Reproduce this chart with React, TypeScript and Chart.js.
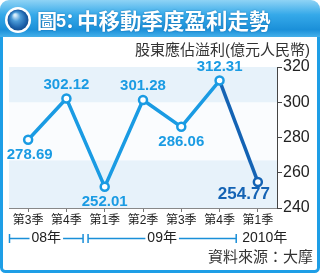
import React, { useEffect, useRef } from 'react';
import { Chart, registerables } from 'chart.js';
Chart.register(...registerables);

const categories = ['第3季', '第4季', '第1季', '第2季', '第3季', '第4季', '第1季'];
const profits = [278.69, 302.12, 252.01, 301.28, 286.06, 312.31, 254.77];
const yMin = 240;
const yMax = 320;
const yStep = 20;
const yearLabels = ['08年', '09年', '2010年'];
const yearStart = [0, 2, 6];
const yearEnd = [1, 5, 6];
const titleHead = '圖';
const titleNum = '5';
const titleSep = '：';
const titleBody = '中移動季度盈利走勢';
const axisTitle = '股東應佔溢利(億元人民幣)';
const sourceText = '資料來源：大摩';

const LIGHT = '#1a9be3';
const DARK = '#1463b4';
const BORDER = '#1e9ee6';
const FONT = "'Liberation Sans', 'Noto Sans CJK TC', sans-serif";

const framePlugin = {
  id: 'frame',
  beforeDraw(chart: any) {
    const { ctx, width, height } = chart;
    ctx.save();
    ctx.fillStyle = '#ffffff';
    ctx.fillRect(0, 0, width, height);
    ctx.strokeStyle = BORDER;
    ctx.lineWidth = 3;
    ctx.beginPath();
    ctx.roundRect(1.5, 12, width - 3, height - 13.5, 4);
    ctx.stroke();
    const hg = ctx.createLinearGradient(0, 0, 0, 37);
    hg.addColorStop(0, '#8fd3f5');
    hg.addColorStop(0.4, '#35a9e9');
    hg.addColorStop(0.8, '#1b90d9');
    hg.addColorStop(1, '#45b0ea');
    ctx.fillStyle = hg;
    ctx.beginPath();
    ctx.roundRect(0, 0, width, 37, [9, 9, 0, 0]);
    ctx.fill();
    ctx.beginPath();
    ctx.arc(18, 20, 13, 0, Math.PI * 2);
    ctx.fillStyle = '#ffffff';
    ctx.fill();
    const rg = ctx.createRadialGradient(15, 15, 1, 18, 20, 11);
    rg.addColorStop(0, '#d8eefc');
    rg.addColorStop(0.35, '#4b9bd8');
    rg.addColorStop(0.8, '#1a5fa8');
    rg.addColorStop(1, '#134c8c');
    ctx.beginPath();
    ctx.arc(18, 20, 10.5, 0, Math.PI * 2);
    ctx.fillStyle = rg;
    ctx.fill();
    // title
    ctx.fillStyle = '#ffffff';
    ctx.textBaseline = 'middle';
    ctx.shadowColor = 'rgba(0,60,120,0.5)';
    ctx.shadowBlur = 2;
    ctx.textAlign = 'left';
    ctx.font = "bold 20px 'Noto Sans CJK TC', sans-serif";
    ctx.fillText(titleHead, 37, 21);
    ctx.font = "bold 18px 'Liberation Sans', sans-serif";
    ctx.fillText(titleNum, 56, 22);
    ctx.textAlign = 'center';
    ctx.font = "bold 20px 'Noto Sans CJK TC', sans-serif";
    ctx.fillText(titleSep, 70, 21);
    ctx.textAlign = 'left';
    ctx.font = "bold 21.5px 'Noto Sans CJK TC', sans-serif";
    ctx.fillText(titleBody, 77, 21);
    ctx.shadowBlur = 0;
    ctx.shadowColor = 'transparent';
    const y = chart.scales.y;
    const area = chart.chartArea;
    ctx.fillStyle = '#fafcfe';
    ctx.fillRect(area.left, area.top, area.right - area.left, area.bottom - area.top);
    ctx.fillStyle = '#e7f2fa';
    ctx.fillRect(area.left, y.getPixelForValue(320), area.right - area.left, y.getPixelForValue(300) - y.getPixelForValue(320));
    ctx.fillRect(area.left, y.getPixelForValue(267), area.right - area.left, y.getPixelForValue(240) - y.getPixelForValue(267));
    ctx.restore();
  },
  afterDraw(chart: any) {
    const { ctx } = chart;
    const x = chart.scales.x;
    ctx.save();
    ctx.font = `15px ${FONT}`;
    ctx.fillStyle = '#333333';
    ctx.textBaseline = 'middle';
    ctx.textAlign = 'right';
    ctx.fillText(axisTitle, 310, 51);
    ctx.fillText(sourceText, 313, 258);
    const half = (x.getPixelForValue(1) - x.getPixelForValue(0)) / 2;
    const yy = 238.5;
    ctx.font = `14px ${FONT}`;
    ctx.strokeStyle = '#1a8fd8';
    ctx.lineWidth = 1.5;
    for (let i = 0; i < yearLabels.length; i++) {
      const xL = x.getPixelForValue(yearStart[i]) - half + (i === 0 ? 0.5 : 2.5);
      const xR = x.getPixelForValue(yearEnd[i]) + half - 2.5;
      const last = i === yearLabels.length - 1;
      ctx.fillStyle = '#222222';
      if (last) {
        ctx.textAlign = 'left';
        ctx.fillText(yearLabels[i], xL + 1, yy);
        continue;
      }
      const mid = (xL + xR) / 2;
      const tw = ctx.measureText(yearLabels[i]).width;
      ctx.textAlign = 'center';
      ctx.fillText(yearLabels[i], mid, yy);
      ctx.beginPath();
      ctx.moveTo(xL, yy - 4.5);
      ctx.lineTo(xL, yy + 4.5);
      ctx.moveTo(xR, yy - 4.5);
      ctx.lineTo(xR, yy + 4.5);
      ctx.moveTo(xL, yy);
      ctx.lineTo(mid - tw / 2 - 2, yy);
      ctx.moveTo(mid + tw / 2 + 2, yy);
      ctx.lineTo(xR, yy);
      ctx.stroke();
    }
    ctx.restore();
  },
};

const labelPlugin = {
  id: 'pointLabels',
  afterDatasetsDraw(chart: any) {
    const { ctx } = chart;
    const meta = chart.getDatasetMeta(0);
    const data = chart.data.datasets[0].data as number[];
    const place = ['below', 'above', 'below', 'above', 'below', 'above', 'belowLeft'];
    ctx.save();
    ctx.textAlign = 'center';
    ctx.textBaseline = 'middle';
    meta.data.forEach((pt: any, i: number) => {
      const v = data[i];
      const p = place[i];
      let tx = pt.x;
      let ty = pt.y;
      if (p === 'above') ty -= 14;
      else if (p === 'below') ty += 15;
      else {
        tx -= 14;
        ty += 12;
      }
      const isLast = i === data.length - 1;
      ctx.font = `bold ${isLast ? 17 : 15}px 'Liberation Sans', sans-serif`;
      ctx.fillStyle = isLast ? DARK : LIGHT;
      ctx.fillText(v.toFixed(2), tx + (i === 0 ? 1.5 : 0), ty);
    });
    ctx.restore();
  },
};

export default function App() {
  const ref = useRef<HTMLCanvasElement>(null);
  useEffect(() => {
    document.body.style.margin = '0';
    const canvas = ref.current!;
    const chart = new Chart(canvas, {
      type: 'line',
      data: {
        labels: categories,
        datasets: [
          {
            data: profits,
            borderWidth: 3.5,
            tension: 0,
            borderColor: LIGHT,
            segment: {
              borderColor: (c: any) => (c.p0DataIndex === profits.length - 2 ? DARK : LIGHT),
            },
            pointRadius: 4,
            pointBorderWidth: 2.5,
            pointBackgroundColor: '#ffffff',
            pointBorderColor: profits.map((_, i) => (i === profits.length - 1 ? DARK : LIGHT)),
          },
        ],
      },
      options: {
        responsive: false,
        animation: false,
        devicePixelRatio: 1,
        layout: { padding: { left: 9, top: 67, right: 0, bottom: 0 } },
        plugins: { legend: { display: false }, tooltip: { enabled: false } },
        scales: {
          x: {
            type: 'category',
            offset: true,
            grid: { drawOnChartArea: false, drawTicks: true, tickLength: 4, color: '#777777' },
            border: { display: true, color: '#888888', width: 1 },
            ticks: { font: { size: 12, family: FONT }, color: '#222222', padding: 1, maxRotation: 0, autoSkip: false },
            afterFit: (s: any) => {
              s.height = 65;
            },
          },
          y: {
            position: 'right',
            min: yMin,
            max: yMax,
            grid: { drawOnChartArea: false, drawTicks: true, tickLength: 5, color: '#444444' },
            border: { display: true, color: '#444444', width: 1 },
            ticks: { stepSize: yStep, font: { size: 16, family: FONT }, color: '#222222', padding: 1 },
            afterFit: (s: any) => {
              s.width = 43;
            },
          },
        },
      },
      plugins: [framePlugin, labelPlugin],
    });
    return () => chart.destroy();
  }, []);
  return <canvas ref={ref} width={320} height={273} style={{ display: 'block' }} />;
}
